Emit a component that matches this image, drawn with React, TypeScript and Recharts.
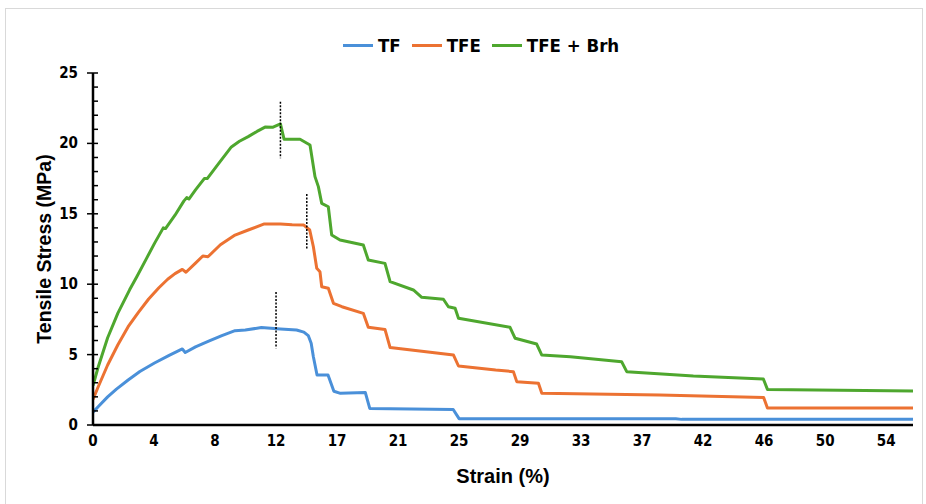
import {
  Label,
  Line,
  LineChart,
  ReferenceLine,
  XAxis,
  YAxis,
} from "recharts";

// strain (%) / stress (MPa)
const TF_STRAIN = [0, 0.35, 1, 1.6, 2.4, 3.2, 4.2, 5.2, 6.1, 6.3, 7, 7.9, 8.8, 9.7, 10.4, 11.5, 12.8, 13.9, 14.4, 14.7, 14.9, 15.05, 15.3, 16.05, 16.45, 16.9, 18.6, 18.9, 20.3, 24.6, 25, 39.8, 40.2, 56];
const TF_STRESS = [0.9, 1.3, 2.0, 2.55, 3.2, 3.8, 4.4, 4.95, 5.4, 5.15, 5.55, 5.95, 6.35, 6.7, 6.75, 6.92, 6.82, 6.75, 6.6, 6.35, 5.8, 4.85, 3.55, 3.55, 2.4, 2.25, 2.3, 1.18, 1.15, 1.1, 0.45, 0.45, 0.4, 0.4];

const TFE_STRAIN = [0, 0.35, 1, 1.7, 2.4, 3.1, 3.8, 4.5, 5.1, 5.6, 6.1, 6.35, 7, 7.5, 7.85, 8.7, 9.7, 10.6, 11.7, 12.8, 13.6, 14.4, 14.8, 15.05, 15.28, 15.5, 15.62, 16.07, 16.42, 17, 18.46, 18.8, 19.94, 20.29, 24.62, 24.96, 27.5, 28.71, 28.94, 30.42, 30.65, 38.7, 45.8, 46.06, 56];
const TFE_STRESS = [1.82, 2.7, 4.26, 5.7, 6.98, 8.0, 8.95, 9.75, 10.35, 10.75, 11.05, 10.85, 11.5, 12.0, 11.95, 12.8, 13.49, 13.85, 14.28, 14.28, 14.22, 14.2, 13.85, 12.66, 11.13, 10.89, 9.82, 9.71, 8.64, 8.4, 7.93, 6.94, 6.79, 5.5, 4.97, 4.19, 3.9, 3.79, 3.08, 2.96, 2.25, 2.13, 1.96, 1.2, 1.2];

const BRH_STRAIN = [0, 0.35, 1, 1.7, 2.5, 3, 3.64, 4.2, 4.8, 4.95, 5.6, 6.2, 6.4, 6.55, 7, 7.6, 7.8, 8.6, 9.45, 10, 10.6, 11.2, 11.75, 12.3, 12.8, 13.05, 14.14, 14.82, 15.16, 15.39, 15.62, 16.07, 16.3, 16.87, 18.46, 18.8, 19.94, 20.29, 21.88, 22.45, 23.93, 24.27, 24.73, 24.96, 28.48, 28.83, 30.3, 30.65, 32.6, 36.1, 36.45, 41, 45.78, 46.06, 56];
const BRH_STRESS = [2.8, 4.1, 6.2, 7.95, 9.6, 10.55, 11.8, 12.9, 14.0, 13.95, 14.9, 15.9, 16.15, 16.05, 16.7, 17.5, 17.5, 18.6, 19.75, 20.15, 20.48, 20.85, 21.16, 21.15, 21.38, 20.29, 20.29, 19.89, 17.64, 16.93, 15.74, 15.5, 13.5, 13.14, 12.78, 11.72, 11.48, 10.18, 9.59, 9.07, 8.93, 8.4, 8.29, 7.58, 6.94, 6.16, 5.75, 4.97, 4.85, 4.5, 3.79, 3.48, 3.27, 2.53, 2.41];

// dotted markers at peaks: [strain, stressTop, stressBottom]
const MARKERS = [
  [12.8, 22.95, 18.95],
  [14.6, 16.4, 12.5],
  [12.5, 9.45, 5.45],
];

const X_TICK_LABELS = ["0", "4", "8", "12", "17", "21", "25", "29", "33", "37", "42", "46", "50", "54"];
const X_STEP = 50 / 12;
const Y_TICKS = Array.from({ length: 26 }, (_, i) => i);

const SERIES = [
  { name: "TF", color: "#4A90D9", strain: TF_STRAIN, stress: TF_STRESS },
  { name: "TFE", color: "#EC7232", strain: TFE_STRAIN, stress: TFE_STRESS },
  { name: "TFE + Brh", color: "#4EA72E", strain: BRH_STRAIN, stress: BRH_STRESS },
];

const NARROW = '"DejaVu Sans Condensed", "Liberation Sans", sans-serif';
const SANS = '"Liberation Sans", Arial, sans-serif';

const YTick = (props: any) => {
  const { x, y, payload } = props;
  const axisX = x + 15;
  const major = payload.value % 5 === 0;
  return (
    <g>
      <line
        x1={major ? axisX - 6 : axisX}
        x2={axisX + 5}
        y1={y}
        y2={y}
        stroke="#000"
        strokeWidth={1.5}
      />
      {major && (
        <text
          x={x}
          y={y}
          dy={5}
          textAnchor="end"
          fontFamily={NARROW}
          fontWeight="bold"
          fontSize={15}
          fill="#000"
        >
          {payload.value}
        </text>
      )}
    </g>
  );
};

const ChartLegend = () => (
  <div
    style={{
      position: "absolute",
      left: 343,
      top: 35,
      display: "flex",
      alignItems: "center",
      gap: 11,
    }}
  >
    {SERIES.map((s) => (
      <div key={s.name} style={{ display: "flex", alignItems: "center", gap: 5 }}>
        <div style={{ width: 30, height: 3, background: s.color }} />
        <span
          style={{
            fontFamily: NARROW,
            fontWeight: "bold",
            fontSize: 18.5,
            color: "#000",
            whiteSpace: "nowrap",
          }}
        >
          {s.name}
        </span>
      </div>
    ))}
  </div>
);

export default function App() {
  return (
    <div style={{ position: "absolute", left: 0, top: 0, width: 926, height: 504, background: "#fff" }}>
      <div
        style={{
          position: "absolute",
          left: 5,
          top: 8,
          width: 916,
          height: 500,
          border: "1px solid #d9d9d9",
        }}
      />
      <LineChart
        width={926}
        height={504}
        margin={{ top: 73, right: 13, bottom: 21, left: 43 }}
      >
        <XAxis
          type="number"
          dataKey="x"
          domain={[0, 56]}
          ticks={X_TICK_LABELS.map((_, i) => i * X_STEP)}
          tickFormatter={(v: number) => X_TICK_LABELS[Math.round(v / X_STEP)]}
          interval={0}
          allowDataOverflow
          height={58}
          axisLine={{ stroke: "#000", strokeWidth: 2.5 }}
          tickLine={false}
          tickSize={0}
          tickMargin={10}
          tick={{ fill: "#000", fontFamily: NARROW, fontWeight: "bold", fontSize: 15 }}
        >
          <Label
            value="Strain (%)"
            position="insideBottom"
            offset={0}
            style={{ fontFamily: SANS, fontWeight: "bold", fontSize: 20, fill: "#000" }}
          />
        </XAxis>
        <YAxis
          type="number"
          domain={[0, 25]}
          ticks={Y_TICKS}
          interval={0}
          width={50}
          axisLine={{ stroke: "#000", strokeWidth: 2.5 }}
          tickLine={false}
          tickSize={5}
          tickMargin={10}
          tick={<YTick />}
        >
          <Label
            value="Tensile Stress (MPa)"
            angle={-90}
            position="insideLeft"
            offset={1}
            style={{ textAnchor: "middle", fontFamily: SANS, fontWeight: "bold", fontSize: 19.5, fill: "#000" }}
          />
        </YAxis>
        {SERIES.map((s) => (
          <Line
            key={s.name}
            name={s.name}
            data={s.strain.map((x, i) => ({ x, y: s.stress[i] }))}
            dataKey="y"
            type="linear"
            stroke={s.color}
            strokeWidth={3}
            strokeLinejoin="round"
            dot={false}
            activeDot={false}
            isAnimationActive={false}
          />
        ))}
        {MARKERS.map(([x, y1, y2], i) => (
          <ReferenceLine
            key={i}
            segment={[
              { x, y: y1 },
              { x, y: y2 },
            ]}
            stroke="#000"
            strokeWidth={1.5}
            strokeDasharray="2 1.5"
          />
        ))}
      </LineChart>
      <ChartLegend />
    </div>
  );
}
